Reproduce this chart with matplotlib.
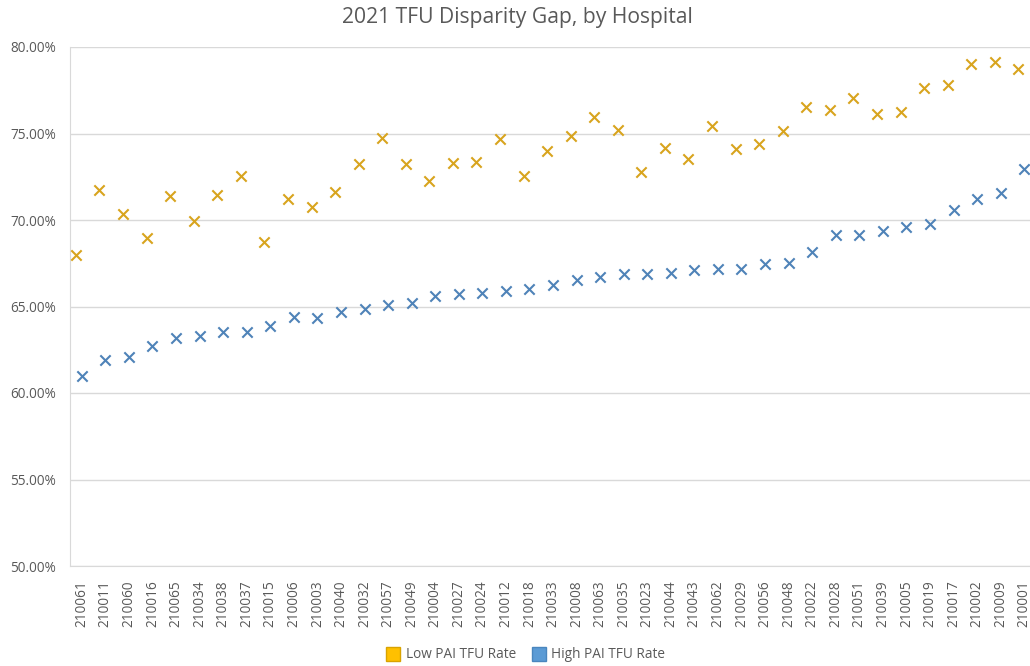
import matplotlib
matplotlib.use("Agg")
import matplotlib.pyplot as plt
from matplotlib.ticker import FuncFormatter, MultipleLocator
from matplotlib.lines import Line2D
import numpy as np

hospitals = ["210061", "210011", "210060", "210016", "210065", "210034", "210038", "210037",
             "210015", "210006", "210003", "210040", "210032", "210057", "210049", "210004",
             "210027", "210024", "210012", "210018", "210033", "210008", "210063", "210035",
             "210023", "210044", "210043", "210062", "210029", "210056", "210048", "210022",
             "210028", "210051", "210039", "210005", "210019", "210017", "210002", "210009",
             "210001"]

low_pai = [67.96, 71.75, 70.35, 68.96, 71.39, 69.94, 71.46, 72.54, 68.75, 71.20,
           70.75, 71.60, 73.22, 74.76, 73.22, 72.24, 73.30, 73.35, 74.68, 72.54,
           73.99, 74.84, 75.95, 75.22, 72.78, 74.16, 73.53, 75.45, 74.10, 74.38,
           75.14, 76.53, 76.34, 77.07, 76.15, 76.26, 77.65, 77.80, 79.00, 79.11,
           78.73]

high_pai = [60.96, 61.92, 62.08, 62.73, 63.19, 63.31, 63.50, 63.54, 63.85, 64.37,
            64.35, 64.71, 64.85, 65.10, 65.20, 65.59, 65.72, 65.80, 65.90, 66.00,
            66.23, 66.52, 66.73, 66.88, 66.88, 66.96, 67.11, 67.15, 67.19, 67.46,
            67.50, 68.15, 69.12, 69.12, 69.37, 69.62, 69.77, 70.56, 71.23, 71.56,
            72.93]

title = "2021 TFU Disparity Gap, by Hospital"
legend_labels = ["Low PAI TFU Rate", "High PAI TFU Rate"]

plt.rcParams['font.family'] = ['Open Sans', 'DejaVu Sans']

W, H = 1030, 666
fig = plt.figure(figsize=(W / 100, H / 100), dpi=100)
left, right, top, bottom = 70, 1036, 47, 566
ax = fig.add_axes([left / W, 1 - bottom / H, (right - left) / W, (bottom - top) / H])

x = np.arange(len(hospitals))
ax.scatter(x - 0.25, low_pai, marker='x', s=55, linewidths=1.5, color='#D8A41E', zorder=3)
ax.scatter(x, high_pai, marker='x', s=55, linewidths=1.5, color='#4F83B8', zorder=3)

ax.set_xlim(-0.5, len(hospitals) - 0.5)
ax.set_ylim(50, 80)
ax.yaxis.set_major_locator(MultipleLocator(5))
ax.yaxis.set_major_formatter(FuncFormatter(lambda v, p: f"{v:.2f}%"))
ax.set_xticks(x)
ax.set_xticklabels(hospitals, rotation=90, fontsize=9.8, color='#595959')
ax.tick_params(axis='y', labelsize=9.8, labelcolor='#595959', length=0, pad=10)
ax.tick_params(axis='x', length=0, pad=10)
ax.grid(axis='y', color='#D9D9D9', linewidth=1.0)
ax.set_axisbelow(True)
for s in ['top', 'right']:
    ax.spines[s].set_visible(False)
ax.spines['left'].set_color('#D9D9D9')
ax.spines['bottom'].set_color('#D9D9D9')

fig.text(517 / W, 1 - 17 / H, title, ha='center', va='center', fontsize=15.2, color='#595959')

handles = [Line2D([], [], marker='s', linestyle='none', markersize=10,
                  markerfacecolor='#FFC000', markeredgecolor='#D9A300'),
           Line2D([], [], marker='s', linestyle='none', markersize=10,
                  markerfacecolor='#5B9BD5', markeredgecolor='#4A86BE')]
fig.legend(handles, legend_labels, loc='center', bbox_to_anchor=(526 / W, 1 - 655 / H),
           ncol=2, frameon=False, fontsize=9.8, labelcolor='#595959',
           handletextpad=0.4, columnspacing=1.2, handlelength=1.0)

fig.savefig("out.png", dpi=100)
